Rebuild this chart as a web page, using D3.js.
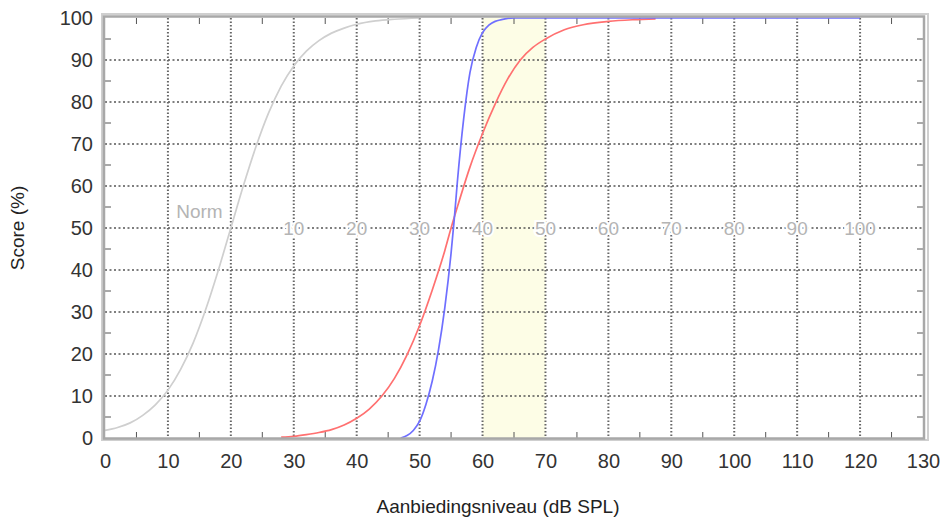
<!DOCTYPE html>
<html><head><meta charset="utf-8">
<script src="https://cdn.jsdelivr.net/npm/d3@7/dist/d3.min.js"></script>
<style>body{margin:0;background:#fff}svg{display:block;font-family:"Liberation Sans",Arial,sans-serif}</style>
</head><body><svg id="c" width="944" height="520"></svg>
<script>
const xTicks = [0,10,20,30,40,50,60,70,80,90,100,110,120,130];
const yTicks = [0,10,20,30,40,50,60,70,80,90,100];
const xMinor = [5,15,25,35,45,55,65,75,85,95,105,115,125];
const yMinor = [5,15,25,35,45,55,65,75,85,95];
const bandRange = [60,70];
const normX = [0,2,4,6,8,10,12,14,16,18,20,22,24,26,28,30,32,34,36,38,40,43,46,50];
const normY = [1.8,2.5,3.6,5.4,7.9,11.4,16.3,22.6,30.6,39.9,50,60.1,69.4,77.4,83.8,88.6,92.1,94.6,96.4,97.6,98.5,99.3,99.7,100];
const redX = [28,30,32,34,36,38,40,42,44,46,48,50,52,54,55,56,58,60,62,64,66,68,70,73,76,80,84,87.5];
const redY = [0.2,0.4,0.8,1.3,2,3.1,4.7,6.9,10,14.2,19.8,26.8,35.2,44.6,50,55,64.5,72.5,79.5,85.5,90,93,95,97.2,98.4,99.2,99.6,99.8];
const blueX = [47,48,49,50,51,52,53,54,55,55.5,56,57,58,59,60,61,62,63,64,65,120];
const blueY = [0,0.6,1.8,4,8,13.5,21,31,44,52,61,76,87,93,96.5,98.3,99.2,99.6,99.9,100,100];
const refLabelX = [30,40,50,60,70,80,90,100,110,120];
const refLabels = ["10","20","30","40","50","60","70","80","90","100"];
const normLabel = {text:"Norm", x:15, y:54};
const xTitle = "Aanbiedingsniveau (dB SPL)";
const yTitle = "Score (%)";

const svg = d3.select("#c");
const L=105, R=923, T=18, B=438;
const x = d3.scaleLinear().domain([0,130]).range([L,R]);
const y = d3.scaleLinear().domain([0,100]).range([B,T]);

// yellow band
svg.append("rect").attr("x",x(bandRange[0])).attr("y",T).attr("width",x(bandRange[1])-x(bandRange[0])).attr("height",B-T).attr("fill","#fdfde6");

// grid
const g = svg.append("g");
g.selectAll(".hg").data(yTicks.slice(1,-1)).enter().append("line")
  .attr("x1",L).attr("x2",R).attr("y1",d=>y(d)).attr("y2",d=>y(d))
  .attr("stroke","#555").attr("stroke-width",1.3).attr("stroke-dasharray","2,2.5");
g.selectAll(".vg").data(xTicks.slice(1,-1)).enter().append("line")
  .attr("y1",T).attr("y2",B).attr("x1",d=>x(d)).attr("x2",d=>x(d))
  .attr("stroke","#666").attr("stroke-width",2).attr("stroke-dasharray","1.5,2");

// minor ticks
g.selectAll(".mxb").data(xMinor).enter().append("line")
  .attr("x1",d=>x(d)).attr("x2",d=>x(d)).attr("y1",B).attr("y2",B-6).attr("stroke","#555").attr("stroke-width",1);
g.selectAll(".mxt").data(xMinor).enter().append("line")
  .attr("x1",d=>x(d)).attr("x2",d=>x(d)).attr("y1",T).attr("y2",T+6).attr("stroke","#555").attr("stroke-width",1);
g.selectAll(".myl").data(yMinor).enter().append("line")
  .attr("y1",d=>y(d)).attr("y2",d=>y(d)).attr("x1",L).attr("x2",L+6).attr("stroke","#555").attr("stroke-width",1);
g.selectAll(".myr").data(yMinor).enter().append("line")
  .attr("y1",d=>y(d)).attr("y2",d=>y(d)).attr("x1",R).attr("x2",R-6).attr("stroke","#555").attr("stroke-width",1);

// reference labels at 50%
const lab = svg.append("g").attr("font-size",19).attr("fill","#b4b4b4");
lab.selectAll("text").data(refLabelX).enter().append("text")
  .attr("x",d=>x(d)).attr("y",y(50)+7).attr("text-anchor","middle")
  .attr("stroke","#fff").attr("stroke-width",4).attr("paint-order","stroke")
  .text((d,i)=>refLabels[i]);
lab.append("text").attr("x",x(normLabel.x)).attr("y",y(normLabel.y)+7).attr("text-anchor","middle")
  .attr("stroke","#fff").attr("stroke-width",4).attr("paint-order","stroke").text(normLabel.text);

// curves
const line = d3.line().x(d=>x(d[0])).y(d=>y(d[1])).curve(d3.curveMonotoneX);
svg.append("path").datum(normX.map((v,i)=>[v,normY[i]])).attr("d",line).attr("fill","none").attr("stroke","#cfcfcf").attr("stroke-width",1.7);
svg.append("path").datum(redX.map((v,i)=>[v,redY[i]])).attr("d",line).attr("fill","none").attr("stroke","#ff7070").attr("stroke-width",1.7);
svg.append("path").datum(blueX.map((v,i)=>[v,blueY[i]])).attr("d",line).attr("fill","none").attr("stroke","#6f6fff").attr("stroke-width",1.7);

// frame
svg.append("rect").attr("x",L-3).attr("y",T-4).attr("width",R-L+8).attr("height",B-T+6).attr("fill","none").attr("stroke","#cfcfcf").attr("stroke-width",2);
svg.append("rect").attr("x",L-1).attr("y",T-1.5).attr("width",R-L+2).attr("height",B-T+2).attr("fill","none").attr("stroke","#a8a8a8").attr("stroke-width",2.5);

// axes labels
const ax = d3.axisBottom(x).tickValues(xTicks).tickSize(0).tickPadding(0);
const gx = svg.append("g").attr("transform",`translate(0,${B+16})`).call(ax);
gx.select(".domain").remove();
gx.selectAll("text").attr("font-size",20).attr("fill","#333").attr("font-family","Liberation Sans, Arial, sans-serif");
const ay = d3.axisLeft(y).tickValues(yTicks).tickSize(0).tickPadding(0);
const gy = svg.append("g").attr("transform",`translate(${L-12},0)`).call(ay);
gy.select(".domain").remove();
gy.selectAll("text").attr("font-size",20).attr("fill","#333").attr("font-family","Liberation Sans, Arial, sans-serif");

svg.append("text").attr("x",(L+R)/2-16).attr("y",513).attr("text-anchor","middle").attr("font-size",19).attr("fill","#222").text(xTitle);
svg.append("text").attr("transform",`translate(24,${(T+B)/2}) rotate(-90)`).attr("text-anchor","middle").attr("font-size",19).attr("fill","#222").text(yTitle);
</script></body></html>
